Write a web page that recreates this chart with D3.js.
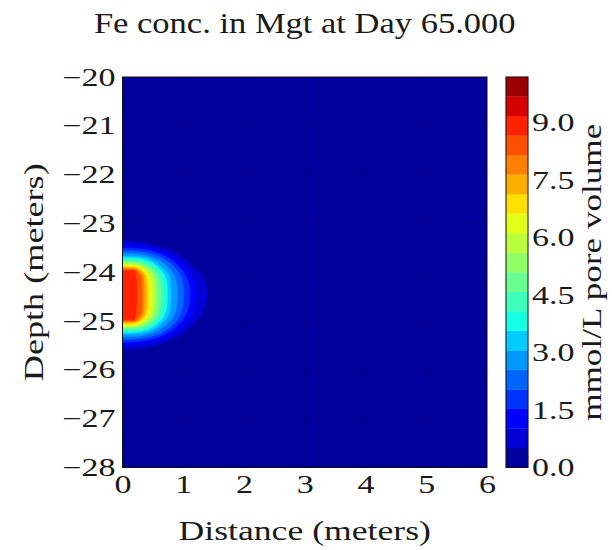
<!DOCTYPE html>
<html>
<head>
<meta charset="utf-8">
<script src="https://cdn.jsdelivr.net/npm/d3@7"></script>
<style>
  html, body { margin: 0; padding: 0; background: #ffffff; }
  svg { display: block; }
  text { font-family: "Liberation Serif", "Times New Roman", serif; fill: #1a1a1a; }
</style>
</head>
<body>
<svg id="chart" width="612" height="550"></svg>
<script>
// ---------------- data ----------------
const titleText = "Fe conc. in Mgt at Day 65.000";
const xLabelText = "Distance (meters)";
const yLabelText = "Depth (meters)";
const cbarLabelText = "mmol/L pore volume";

// grid coordinates of the concentration samples
const distance = [0, 0.1, 0.2, 0.3, 0.4, 0.5, 0.6, 0.7, 0.8, 0.9, 1.0, 1.1, 1.2, 1.3, 1.4, 1.5, 1.6];
const depth = [-23.17, -23.27, -23.37, -23.47, -23.57, -23.67, -23.77, -23.87, -23.97, -24.07, -24.17, -24.27, -24.37,
               -24.47, -24.57, -24.67, -24.77, -24.87, -24.97, -25.07, -25.17, -25.27, -25.37, -25.47, -25.57, -25.67, -25.77];

// concentration (mmol/L pore volume), one row per depth, one column per distance
const conc = [
  [0,0,0,0,0,0,0,0,0,0,0,0,0,0,0,0,0],
  [0.10,0.10,0.06,0,0,0,0,0,0,0,0,0,0,0,0,0,0],
  [0.57,0.55,0.50,0.43,0.33,0.19,0.08,0,0,0,0,0,0,0,0,0,0],
  [1.21,1.20,1.12,1.01,0.89,0.73,0.53,0.31,0.06,0,0,0,0,0,0,0,0],
  [2.13,2.12,2.08,1.96,1.78,1.51,1.15,0.84,0.56,0.26,0.02,0,0,0,0,0,0],
  [3.06,3.05,3.00,2.86,2.66,2.37,2.05,1.56,1.07,0.72,0.39,0,0,0,0,0,0],
  [4.59,4.57,4.47,4.21,3.73,3.14,2.67,2.22,1.74,1.16,0.77,0.44,0,0,0,0,0],
  [6.63,6.60,6.41,5.81,4.91,4.15,3.26,2.67,2.24,1.66,1.13,0.72,0.37,0,0,0,0],
  [8.74,8.72,8.68,7.30,6.00,5.00,3.95,3.13,2.60,2.10,1.53,0.98,0.67,0.25,0.03,0,0],
  [8.95,8.90,8.78,8.17,6.73,5.58,4.48,3.55,2.82,2.32,1.79,1.23,0.83,0.53,0.15,0.03,0],
  [9.00,8.95,8.80,8.36,7.01,5.84,4.73,3.78,2.95,2.46,1.95,1.41,0.94,0.65,0.30,0.10,0],
  [9.00,8.95,8.80,8.38,7.08,5.93,4.85,3.90,3.00,2.52,2.04,1.51,1.00,0.72,0.42,0.15,0],
  [9.05,9.00,8.85,8.40,7.12,5.97,4.90,3.95,3.05,2.56,2.08,1.57,1.06,0.77,0.49,0.19,0],
  [9.10,9.05,8.85,8.41,7.14,5.99,4.91,3.96,3.06,2.57,2.09,1.58,1.07,0.78,0.51,0.20,0],
  [9.05,9.00,8.85,8.40,7.12,5.97,4.90,3.95,3.05,2.56,2.08,1.57,1.06,0.77,0.49,0.19,0],
  [9.00,8.95,8.80,8.38,7.08,5.93,4.85,3.90,3.00,2.52,2.04,1.51,1.00,0.72,0.42,0.15,0],
  [9.00,8.95,8.80,8.36,7.01,5.84,4.73,3.78,2.95,2.46,1.95,1.41,0.94,0.65,0.30,0.10,0],
  [8.95,8.90,8.78,8.17,6.73,5.58,4.48,3.55,2.82,2.32,1.79,1.23,0.83,0.53,0.15,0.03,0],
  [8.74,8.72,8.68,7.30,6.00,5.00,3.95,3.13,2.60,2.10,1.53,0.98,0.67,0.25,0.03,0,0],
  [6.63,6.60,6.41,5.81,4.91,4.15,3.26,2.67,2.24,1.66,1.13,0.72,0.37,0,0,0,0],
  [4.59,4.57,4.47,4.21,3.73,3.14,2.67,2.22,1.74,1.16,0.77,0.44,0,0,0,0,0],
  [3.06,3.05,3.00,2.86,2.66,2.37,2.05,1.56,1.07,0.72,0.39,0,0,0,0,0,0],
  [2.13,2.12,2.08,1.96,1.78,1.51,1.15,0.84,0.56,0.26,0.02,0,0,0,0,0,0],
  [1.21,1.20,1.12,1.01,0.89,0.73,0.53,0.31,0.06,0,0,0,0,0,0,0,0],
  [0.57,0.55,0.50,0.43,0.33,0.19,0.08,0,0,0,0,0,0,0,0,0,0],
  [0.10,0.10,0.06,0,0,0,0,0,0,0,0,0,0,0,0,0,0],
  [0,0,0,0,0,0,0,0,0,0,0,0,0,0,0,0,0]
];

// contour levels (20 filled bands) and tick labels
const levels = [0, 0.51, 1.02, 1.53, 2.04, 2.55, 3.06, 3.57, 4.08, 4.59, 5.10,
                5.61, 6.12, 6.63, 7.14, 7.65, 8.16, 8.67, 9.18, 9.69, 10.2];
const xTicks = [0, 1, 2, 3, 4, 5, 6];
const yTicks = [-20, -21, -22, -23, -24, -25, -26, -27, -28];
const cbarTicks = [0, 1.5, 3.0, 4.5, 6.0, 7.5, 9.0];
const xDomain = [0, 6];
const yDomain = [-28, -20];

// ---------------- layout ----------------
const plot = { left: 122.5, right: 487, top: 77, bottom: 467.5 };
const cbar = { left: 506, right: 528 };

// matplotlib "jet" colormap
const jetSeg = {
  r: [[0, 0], [0.35, 0], [0.66, 1], [0.89, 1], [1, 0.5]],
  g: [[0, 0], [0.125, 0], [0.375, 1], [0.64, 1], [0.91, 0], [1, 0]],
  b: [[0, 0.5], [0.11, 1], [0.34, 1], [0.65, 0], [1, 0]]
};
function segVal(seg, t) {
  for (let i = 1; i < seg.length; i++) {
    if (t <= seg[i][0]) {
      const [x0, y0] = seg[i - 1], [x1, y1] = seg[i];
      return y0 + (y1 - y0) * (t - x0) / (x1 - x0);
    }
  }
  return seg[seg.length - 1][1];
}
function jet(t) {
  return d3.rgb(Math.round(255 * segVal(jetSeg.r, t)),
                Math.round(255 * segVal(jetSeg.g, t)),
                Math.round(255 * segVal(jetSeg.b, t))).formatHex();
}
const nBands = levels.length - 1;
const bandColor = i => jet((i + 0.5) / nBands);

const svg = d3.select("#chart");

const x = d3.scaleLinear().domain(xDomain).range([plot.left, plot.right]);
const y = d3.scaleLinear().domain(yDomain).range([plot.bottom, plot.top]);
const cScale = d3.scaleLinear().domain([levels[0], levels[levels.length - 1]]).range([plot.bottom, plot.top]);

// clip
svg.append("defs").append("clipPath").attr("id", "plotClip")
  .append("rect")
  .attr("x", plot.left).attr("y", plot.top)
  .attr("width", plot.right - plot.left).attr("height", plot.bottom - plot.top);

const plotG = svg.append("g").attr("clip-path", "url(#plotClip)");

// background = lowest band
plotG.append("rect")
  .attr("x", plot.left).attr("y", plot.top)
  .attr("width", plot.right - plot.left).attr("height", plot.bottom - plot.top)
  .attr("fill", bandColor(0));

// dotted grid (under the filled contours)
const gridG = plotG.append("g");
gridG.selectAll("line.vx").data(xTicks).join("line")
  .attr("x1", d => x(d)).attr("x2", d => x(d))
  .attr("y1", plot.top).attr("y2", plot.bottom)
  .attr("stroke", "#000050").attr("stroke-opacity", 0.55)
  .attr("stroke-width", 1).attr("stroke-dasharray", "1,3");
gridG.selectAll("line.hy").data(yTicks).join("line")
  .attr("x1", plot.left).attr("x2", plot.right)
  .attr("y1", d => y(d)).attr("y2", d => y(d))
  .attr("stroke", "#000050").attr("stroke-opacity", 0.55)
  .attr("stroke-width", 1).attr("stroke-dasharray", "1,3");

// ---------------- filled contours ----------------
const nx = distance.length, ny = depth.length;
const flat = [];
for (let j = 0; j < ny; j++) for (let i = 0; i < nx; i++) flat.push(conc[j][i]);

const colToDist = d3.scaleLinear().domain([0, nx - 1]).range([distance[0], distance[nx - 1]]);
const rowToDepth = d3.scaleLinear().domain([0, ny - 1]).range([depth[0], depth[ny - 1]]);

function mapPoint(p, t) {
  const px = p[0], py = p[1];
  let cx, cy;
  const xi = Number.isInteger(px), yi = Number.isInteger(py);
  if (xi && !yi) {
    const r = Math.floor(py);
    cy = r;
    if (px > 0 && px < nx) {
      const v0 = conc[r][px - 1], v1 = conc[r][px];
      cx = px - 1 + (t - v0) / (v1 - v0);
    } else cx = px - 0.5;
  } else if (yi && !xi) {
    const c = Math.floor(px);
    cx = c;
    if (py > 0 && py < ny) {
      const v0 = conc[py - 1][c], v1 = conc[py][c];
      cy = py - 1 + (t - v0) / (v1 - v0);
    } else cy = py - 0.5;
  } else { cx = px - 0.5; cy = py - 0.5; }
  return [x(colToDist(cx)), y(rowToDepth(cy))];
}

const contourGen = d3.contours().size([nx, ny]).thresholds(levels.slice(0, -1)).smooth(false);
const polys = contourGen(flat);
const pathGen = d3.geoPath();

polys.forEach((mp, i) => {
  if (i === 0) return; // band 0 is the background
  const coords = mp.coordinates.map(poly => poly.map(ring => ring.map(pt => mapPoint(pt, mp.value))));
  plotG.append("path")
    .attr("d", pathGen({ type: "MultiPolygon", coordinates: coords }))
    .attr("fill", bandColor(i))
    .attr("fill-rule", "evenodd")
    .attr("stroke", bandColor(i))
    .attr("stroke-width", 0.4);
});

// frame
svg.append("rect")
  .attr("x", plot.left).attr("y", plot.top)
  .attr("width", plot.right - plot.left).attr("height", plot.bottom - plot.top)
  .attr("fill", "none").attr("stroke", "#111").attr("stroke-width", 1);

// ---------------- axes ----------------
const tickFont = 25, tickStretch = 1.36;
const xAxis = svg.append("g").attr("transform", `translate(0,${plot.bottom})`)
  .call(d3.axisBottom(x).tickValues(xTicks).tickFormat(d3.format("d")).tickSize(0).tickPadding(8));
const yAxis = svg.append("g").attr("transform", `translate(${plot.left},0)`)
  .call(d3.axisLeft(y).tickValues(yTicks).tickFormat(d3.format("d")).tickSize(0).tickPadding(7));
[xAxis, yAxis].forEach(a => {
  a.select(".domain").remove();
  a.selectAll("text").attr("font-size", tickFont).attr("font-family", "Liberation Serif").attr("fill", "#1a1a1a").classed("tk", true);
});

// ---------------- colorbar ----------------
const bands = d3.range(nBands);
svg.append("g").selectAll("rect").data(bands).join("rect")
  .attr("x", cbar.left)
  .attr("width", cbar.right - cbar.left)
  .attr("y", i => cScale(levels[i + 1]))
  .attr("height", i => cScale(levels[i]) - cScale(levels[i + 1]))
  .attr("fill", i => bandColor(i))
  .attr("stroke", i => bandColor(i)).attr("stroke-width", 0.3);
svg.append("rect")
  .attr("x", cbar.left).attr("y", plot.top)
  .attr("width", cbar.right - cbar.left).attr("height", plot.bottom - plot.top)
  .attr("fill", "none").attr("stroke", "#111").attr("stroke-width", 1);
const cAxis = svg.append("g").attr("transform", `translate(${cbar.right},0)`)
  .call(d3.axisRight(cScale).tickValues(cbarTicks).tickFormat(d3.format(".1f")).tickSize(0).tickPadding(4));
cAxis.select(".domain").remove();
cAxis.selectAll("text").attr("font-size", tickFont).attr("font-family", "Liberation Serif").attr("fill", "#1a1a1a").classed("tk", true);

// ---------------- titles and labels ----------------
const midX = (plot.left + plot.right) / 2, midY = (plot.top + plot.bottom) / 2;
const title = svg.append("text")
  .attr("x", midX).attr("y", 33)
  .attr("text-anchor", "middle").attr("font-size", 29)
  .text(titleText);
const xLab = svg.append("text")
  .attr("x", midX).attr("y", 540)
  .attr("text-anchor", "middle").attr("font-size", 27)
  .text(xLabelText);
const yLab = svg.append("text")
  .attr("transform", `translate(43,${midY}) rotate(-90)`)
  .attr("text-anchor", "middle").attr("font-size", 27)
  .text(yLabelText);
const cLab = svg.append("text")
  .attr("transform", `translate(601,${midY}) rotate(-90)`)
  .attr("text-anchor", "middle").attr("font-size", 27)
  .text(cbarLabelText);

// widen glyphs along the text direction to match the reference's wide lettering
function stretch(sel, f) {
  sel.each(function () {
    const L = this.getComputedTextLength();
    this.setAttribute("textLength", (L * f).toFixed(1));
    this.setAttribute("lengthAdjust", "spacingAndGlyphs");
  });
}
stretch(svg.selectAll("text.tk"), tickStretch);
stretch(title, 1.19);
stretch(xLab, 1.32);
stretch(yLab, 1.34);
stretch(cLab, 1.30);
</script>
</body>
</html>
